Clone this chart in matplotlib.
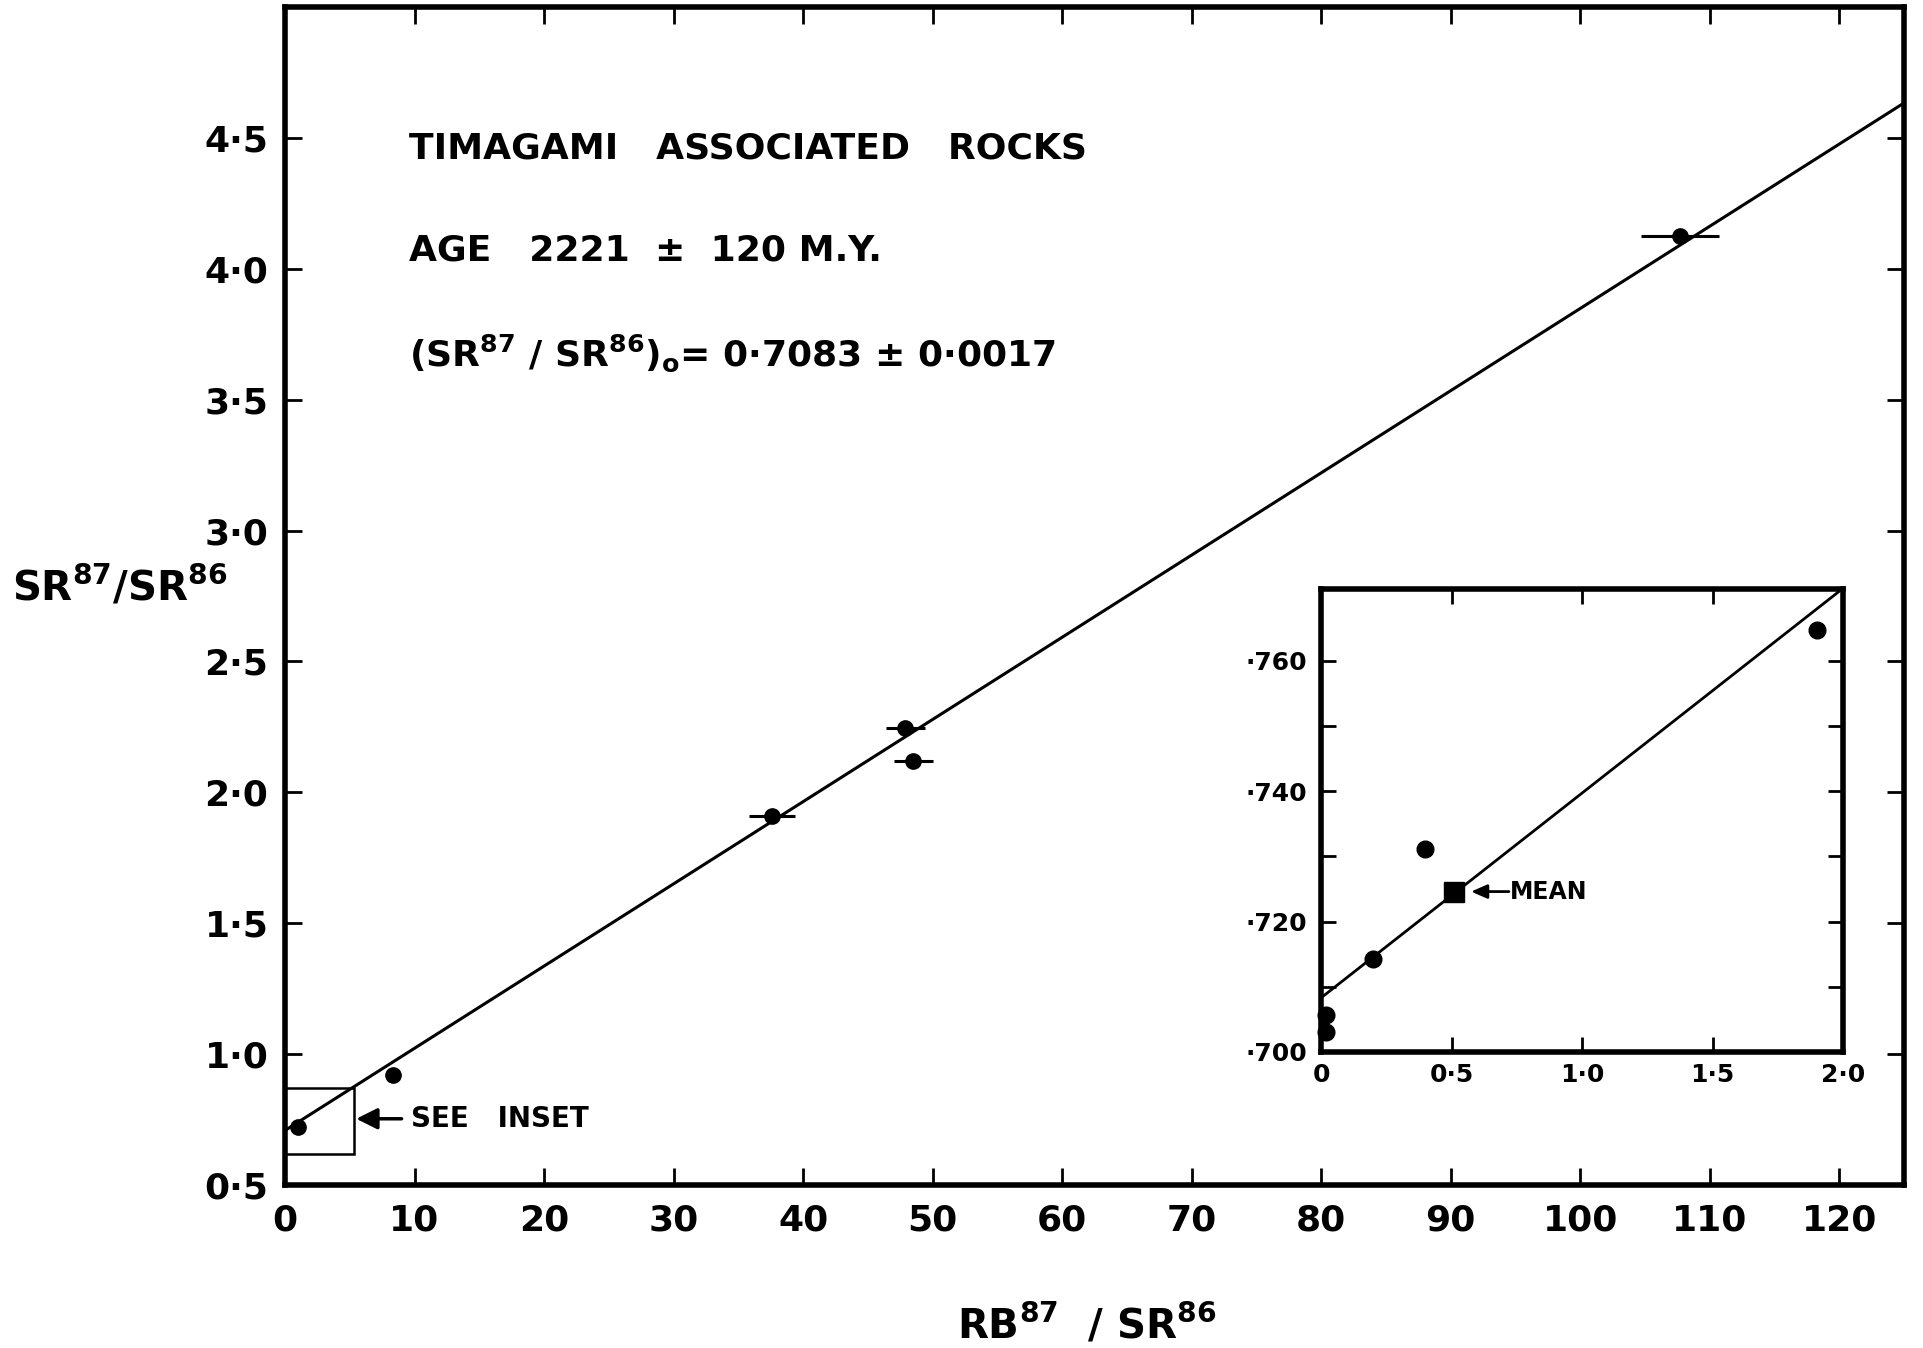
"""
plot.py - Rb/Sr whole-rock isochron for the Timagami associated rocks,
with an enlarged inset of the low Rb87/Sr86 samples.
"""
import matplotlib
matplotlib.use("Agg")
import matplotlib.pyplot as plt
import numpy as np
from matplotlib.patches import Rectangle
from matplotlib.ticker import FixedLocator

plt.rcParams["font.family"] = ["DejaVu Sans"]
plt.rcParams["font.weight"] = "bold"
plt.rcParams["mathtext.fontset"] = "dejavusans"
plt.rcParams["mathtext.default"] = "bf"

# whole-rock analyses (main panel)
RB_SR = [1.0, 8.3, 37.6, 47.9, 48.5, 107.7]
SR_SR = [0.723, 0.921, 1.909, 2.246, 2.120, 4.124]
RB_ERR = [0.0, 0.0, 1.8, 1.5, 1.5, 3.0]

# isochron: initial ratio and slope
INTERCEPT = 0.7083
SLOPE = 0.0314

# low-Rb samples (inset) and their mean
INSET_RB = [0.02, 0.02, 0.20, 0.40, 1.90]
INSET_SR = [0.7030, 0.7056, 0.7142, 0.7312, 0.7647]
MEAN_RB = 0.51
MEAN_SR = 0.7246

X_TICKS = [0, 10, 20, 30, 40, 50, 60, 70, 80, 90, 100, 110, 120]
Y_TICKS = [0.5, 1.0, 1.5, 2.0, 2.5, 3.0, 3.5, 4.0, 4.5]
Y_LABELS = ["0·5", "1·0", "1·5", "2·0", "2·5", "3·0", "3·5", "4·0", "4·5"]

INSET_X_TICKS = [0, 0.5, 1.0, 1.5, 2.0]
INSET_X_LABELS = ["0", "0·5", "1·0", "1·5", "2·0"]
INSET_Y_TICKS = [0.700, 0.720, 0.740, 0.760]
INSET_Y_LABELS = ["·700", "·720", "·740", "·760"]
INSET_Y_MINOR = [0.710, 0.730, 0.750]

W, H = 1923, 1348


def frame(ax, lw):
    for sp in ax.spines.values():
        sp.set_linewidth(lw)
        sp.set_color("black")


def main():
    fig = plt.figure(figsize=(W / 100, H / 100), dpi=100)
    fig.patch.set_facecolor("white")

    # ---- main isochron panel
    ax = fig.add_axes([285 / W, (H - 1185) / H, 1619 / W, 1178 / H])
    ax.set_xlim(0, 125)
    ax.set_ylim(0.5, 5.0)
    frame(ax, 4)
    ax.set_xticks(X_TICKS)
    ax.set_xticklabels([str(v) for v in X_TICKS])
    ax.set_yticks(Y_TICKS)
    ax.set_yticklabels(Y_LABELS)
    ax.tick_params(direction="in", length=12, width=2, top=True, right=True,
                   labelsize=26)
    ax.tick_params(axis="x", pad=13)
    ax.tick_params(axis="y", pad=12)

    xs = np.array([0, 125])
    ax.plot(xs, INTERCEPT + SLOPE * xs, color="black", lw=2.2)
    ax.errorbar(RB_SR, SR_SR, xerr=RB_ERR, fmt="o", ms=11, color="black",
                ecolor="black", elinewidth=2.2, capsize=0, zorder=3)

    # box marking the region blown up in the inset
    ax.add_patch(Rectangle((0, 0.62), 5.3, 0.25, fill=False, lw=1.8,
                           edgecolor="black"))
    ax.annotate("", xy=(5.5, 0.753), xytext=(9.0, 0.753),
                arrowprops=dict(arrowstyle="-|>,head_length=0.8,head_width=0.4",
                                mutation_scale=16, lw=2.5, color="black",
                                shrinkA=0, shrinkB=0))
    ax.text(9.7, 0.753, "SEE   INSET", fontsize=20, va="center", ha="left")

    ax.text(9.6, 4.42, "TIMAGAMI   ASSOCIATED   ROCKS", fontsize=26,
            va="baseline", ha="left")
    ax.text(9.6, 4.03, "AGE   2221  ±  120 M.Y.", fontsize=26,
            va="baseline", ha="left")
    ax.text(9.6, 3.63, r"(SR$^{87}$ / SR$^{86}$)$_{o}$= 0·7083 ± 0·0017",
            fontsize=26, va="baseline", ha="left")

    fig.text(12 / W, 1 - 601 / H, r"SR$^{87}$/SR$^{86}$", fontsize=29,
             ha="left", va="baseline")
    fig.text(1087 / W, 1 - 1339 / H, r"RB$^{87}$  / SR$^{86}$", fontsize=29,
             ha="center", va="baseline")

    # ---- inset: low Rb87/Sr86 samples
    axin = fig.add_axes([1321 / W, (H - 1052) / H, 522 / W, 463 / H])
    axin.set_xlim(0, 2.0)
    axin.set_ylim(0.700, 0.771)
    frame(axin, 4)
    axin.set_xticks(INSET_X_TICKS)
    axin.set_xticklabels(INSET_X_LABELS)
    axin.set_yticks(INSET_Y_TICKS)
    axin.set_yticklabels(INSET_Y_LABELS)
    axin.yaxis.set_minor_locator(FixedLocator(INSET_Y_MINOR))
    axin.tick_params(which="both", direction="in", length=11, width=2,
                     top=True, right=True, labelsize=18)
    axin.tick_params(axis="x", pad=8)
    axin.tick_params(axis="y", pad=10)

    xi = np.array([0, 2.0])
    axin.plot(xi, INTERCEPT + SLOPE * xi, color="black", lw=2.0)
    axin.plot(INSET_RB, INSET_SR, "o", ms=12, color="black", clip_on=False,
              zorder=3)
    axin.plot([MEAN_RB], [MEAN_SR], "s", ms=15, color="black", zorder=3)
    axin.annotate("", xy=(0.575, MEAN_SR), xytext=(0.72, MEAN_SR),
                  arrowprops=dict(arrowstyle="-|>,head_length=0.8,head_width=0.35",
                                  mutation_scale=12, lw=2.0, color="black",
                                  shrinkA=0, shrinkB=0))
    axin.text(0.725, MEAN_SR, "MEAN", fontsize=17, va="center", ha="left")

    fig.savefig("out.png", dpi=100, facecolor="white")
    plt.close(fig)


if __name__ == "__main__":
    main()
